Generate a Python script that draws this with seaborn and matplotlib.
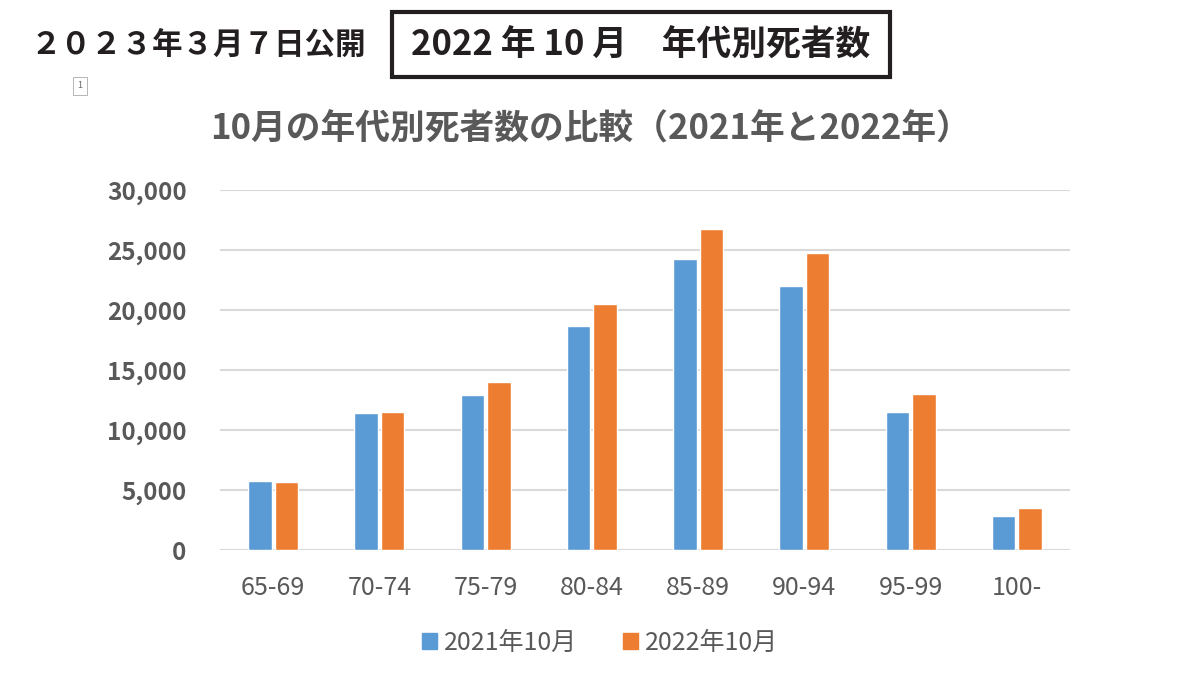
import pandas as pd
import matplotlib.pyplot as plt
import matplotlib.patches as mpatches
import seaborn as sns

# data
age_groups = ["65-69", "70-74", "75-79", "80-84", "85-89", "90-94", "95-99", "100-"]
deaths_2021 = [5750, 11380, 12940, 18690, 24250, 22020, 11480, 2810]
deaths_2022 = [5670, 11470, 14000, 20470, 26780, 24750, 13040, 3480]
series_names = ["2021年10月", "2022年10月"]

df = pd.DataFrame({
    "age": age_groups * 2,
    "deaths": deaths_2021 + deaths_2022,
    "series": [series_names[0]] * len(age_groups) + [series_names[1]] * len(age_groups),
})

sns.set_theme(style="white")
plt.rcParams["font.family"] = ["Noto Sans CJK JP", "DejaVu Sans"]

gray = "#595959"
colors = ["#5B9BD5", "#ED7D31"]

fig = plt.figure(figsize=(12, 6.76), dpi=100)
ax = fig.add_axes([220 / 1200, 1 - 550 / 676, 850 / 1200, 360 / 676])

sns.barplot(
    data=df, x="age", y="deaths", hue="series",
    palette=colors, width=0.5, gap=0.11, saturation=1,
    legend=False, ax=ax,
)

ax.set_xlim(-0.5, len(age_groups) - 0.5)
ax.set_ylim(0, 30000)
ax.set_yticks(range(0, 30001, 5000))
ax.set_yticklabels([f"{v:,}" for v in range(0, 30001, 5000)],
                   fontsize=17.5, fontweight="bold", color=gray)
ax.tick_params(axis="x", labelsize=18, colors=gray, pad=18, length=0)
ax.tick_params(axis="y", pad=24, length=0)
ax.set_xlabel("")
ax.set_ylabel("")
ax.yaxis.grid(True, color="#D9D9D9", linewidth=1.5)
ax.set_axisbelow(True)
for s in ["top", "right", "left", "bottom"]:
    ax.spines[s].set_visible(False)
ax.axhline(0, color="#D9D9D9", linewidth=1.5, zorder=0)

# chart title
fig.text(591 / 1200, 1 - 129 / 676, "10月の年代別死者数の比較（2021年と2022年）",
         ha="center", va="center", fontsize=25, fontweight="bold", color=gray)

# legend at the bottom
handles = [mpatches.Patch(color=c, label=n) for c, n in zip(colors, series_names)]
fig.legend(handles=handles, loc="center", bbox_to_anchor=(600 / 1200, 1 - 643 / 676),
           ncol=2, frameon=False, fontsize=18, handlelength=0.6, handleheight=0.6,
           handletextpad=0.3, columnspacing=1.8, labelcolor=gray)

# header texts
fig.text(30 / 1200, 1 - 45 / 676, "２０２３年３月７日公開",
         ha="left", va="center", fontsize=22, fontweight="bold", color="#231f20")
box = mpatches.Rectangle((392 / 1200, 1 - 77 / 676), 498 / 1200, 65 / 676,
                         transform=fig.transFigure, fill=False,
                         edgecolor="#231f20", linewidth=3)
fig.patches.append(box)
fig.text(641 / 1200, 1 - 45 / 676, "2022 年 10 月　年代別死者数",
         ha="center", va="center", fontsize=25, fontweight="bold", color="#231f20")

# small page marker
fig.text(80 / 1200, 1 - 86 / 676, "1", ha="center", va="center", fontsize=6.5,
         color="#666666",
         bbox=dict(boxstyle="square,pad=0.5", fc="white", ec="#aaaaaa", lw=0.6))

fig.savefig("out.png", dpi=100)
